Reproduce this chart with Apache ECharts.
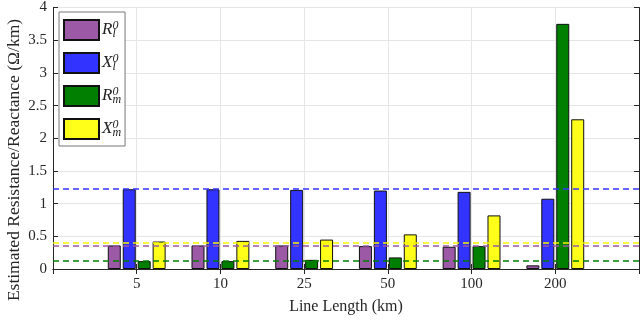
<!DOCTYPE html>
<html><head><meta charset="utf-8">
<script src="https://cdn.jsdelivr.net/npm/echarts@6/dist/echarts.min.js"></script>
<style>html,body{margin:0;padding:0;background:#fff}#c{width:642px;height:320px}</style>
</head><body><div id="c"></div>
<script>
const categories = ['', '5', '10', '25', '50', '100', '200', ''];
const Rl = [0.36, 0.36, 0.36, 0.35, 0.34, 0.056];
const Xl = [1.22, 1.22, 1.21, 1.20, 1.18, 1.075];
const Rm = [0.12, 0.12, 0.14, 0.177, 0.35, 3.75];
const Xm = [0.42, 0.43, 0.45, 0.53, 0.82, 2.29];
const refRl = 0.36, refXl = 1.22, refRm = 0.117, refXm = 0.40;
const yTicks = ['0', '0.5', '1', '1.5', '2', '2.5', '3', '3.5', '4'];
const names = ['Rl', 'Xl', 'Rm', 'Xm'];
const colors = ['#9b59a6', '#3333ff', '#007f00', '#ffff1a'];
const font = 'Liberation Serif';
const pad = a => ['-'].concat(a, ['-']);
const series = [[Rl, refRl], [Xl, refXl], [Rm, refRm], [Xm, refXm]].map((p, i) => ({
  name: names[i], type: 'bar', data: pad(p[0]), barWidth: 13, barGap: '15%',
  itemStyle: {color: colors[i], borderColor: '#111', borderWidth: 1},
  markLine: {silent: true, symbol: 'none', label: {show: false},
    lineStyle: {color: colors[i] === '#ffff1a' ? '#f5f500' : colors[i], type: [6, 4], width: 1.6},
    data: [{yAxis: p[1]}]}
}));
const letter = ['R', 'X', 'R', 'X'], sub = ['l', 'l', 'm', 'm'];
const chart = echarts.init(document.getElementById('c'));
chart.setOption({
  animation: false,
  textStyle: {fontFamily: font},
  grid: {left: 53, right: 1, top: 7, bottom: 49},
  legend: {
    orient: 'vertical', left: 59, top: 12, itemWidth: 35, itemHeight: 20, itemGap: 11,
    padding: [7, 4, 6, 4], backgroundColor: '#fff', borderColor: '#777', borderWidth: 1,
    data: names.map(n => ({name: n, icon: 'rect'})),
    formatter: n => { const i = names.indexOf(n); return '{b|' + letter[i] + '}{sp|0}{sb|' + sub[i] + '}'; },
    textStyle: {fontFamily: font, color: '#222', lineHeight: 20, padding: [0,0,0,-2],
      rich: {
        b: {fontFamily: font, fontStyle: 'italic', fontSize: 17, color: '#222', verticalAlign: 'middle', lineHeight: 20},
        sp: {fontFamily: font, fontStyle: 'italic', fontSize: 12, color: '#222', width: 0, verticalAlign: 'top', lineHeight: 20},
        sb: {fontFamily: font, fontStyle: 'italic', fontSize: 12, color: '#222', verticalAlign: 'bottom', lineHeight: 20}
      }}
  },
  xAxis: [{
    type: 'category', data: categories, boundaryGap: false,
    name: 'Line Length (km)', nameLocation: 'middle', nameGap: 30,
    nameTextStyle: {fontFamily: font, fontSize: 16, color: '#262626'},
    axisLine: {lineStyle: {color: '#262626', width: 1}},
    axisTick: {inside: true, length: 5, lineStyle: {color: '#262626'}},
    axisLabel: {fontFamily: font, fontSize: 15, color: '#262626', margin: 8},
    splitLine: {show: true, lineStyle: {color: '#e6e6e6'}}
  }, {
    type: 'category', data: categories, boundaryGap: false, position: 'top',
    axisLine: {lineStyle: {color: '#262626'}},
    axisTick: {inside: true, length: 5, lineStyle: {color: '#262626'}},
    axisLabel: {show: false}, splitLine: {show: false}
  }],
  yAxis: [{
    type: 'value', min: 0, max: 4, interval: 0.5,
    axisLine: {show: true, lineStyle: {color: '#262626'}},
    axisTick: {show: true, inside: true, length: 5, lineStyle: {color: '#262626'}},
    axisLabel: {fontFamily: font, fontSize: 15, color: '#262626', margin: 6,
      formatter: (v) => yTicks[Math.round(v / 0.5)]},
    splitLine: {show: true, lineStyle: {color: '#e6e6e6'}}
  }, {
    type: 'value', min: 0, max: 4, interval: 0.5, position: 'right',
    axisLine: {show: true, lineStyle: {color: '#262626'}},
    axisTick: {show: true, inside: true, length: 5, lineStyle: {color: '#262626'}},
    axisLabel: {show: false}, splitLine: {show: false}
  }],
  graphic: [{
    type: 'text', rotation: Math.PI / 2,
    x: 5, y: 160,
    style: {text: 'Estimated Resistance/Reactance (\u03a9/km)', fontFamily: font, fontSize: 17.5,
      fill: '#262626', align: 'center', verticalAlign: 'top'}
  }],
  series: series
});
</script></body></html>
